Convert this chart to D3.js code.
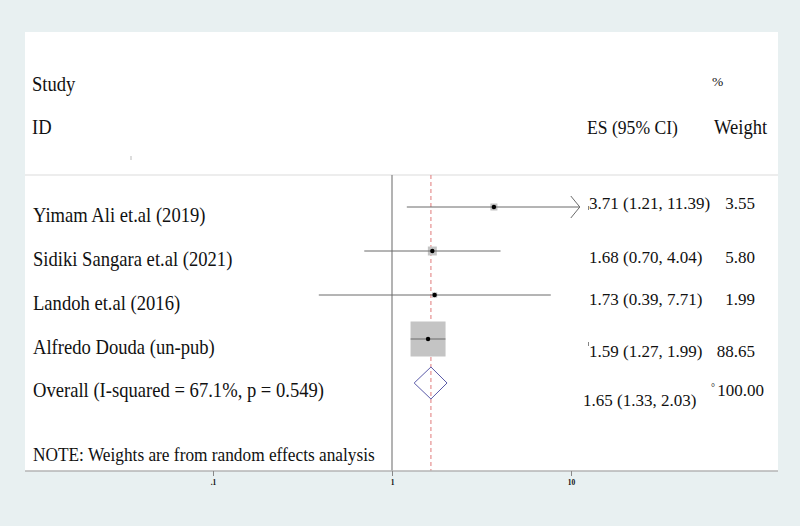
<!DOCTYPE html>
<html>
<head>
<meta charset="utf-8">
<script src="https://cdn.jsdelivr.net/npm/d3@7"></script>
<style>
  html, body { margin: 0; padding: 0; background: #e8f0f1; }
  svg { display: block; }
  text { font-family: "Liberation Serif", "Times New Roman", serif; fill: #111; }
</style>
</head>
<body>
<script>
// ---- data ----
const studies = ["Yimam Ali et.al (2019)", "Sidiki Sangara et.al (2021)", "Landoh et.al (2016)", "Alfredo Douda (un-pub)"];
const es      = [3.71, 1.68, 1.73, 1.59];
const lower   = [1.21, 0.70, 0.39, 1.27];
const upper   = [11.39, 4.04, 7.71, 1.99];
const weights = [3.55, 5.80, 1.99, 88.65];
const overallLabel = "Overall (I-squared = 67.1%, p = 0.549)";
const overall = {es: 1.65, lo: 1.33, hi: 2.03, w: 100.00};
const tickValues = [0.1, 1, 10];
const tickLabels = [".1", "1", "10"];
const clipUpper = 11.2; // CI arrows drawn for bounds beyond this

// ---- layout ----
const W = 800, H = 526;
const panel = {x0: 25, x1: 778, y0: 32, y1: 471};
const sepY = 175;
const SY = 1.1; // vertical stretch of serif text

const svg = d3.select("body").append("svg").attr("width", W).attr("height", H);
svg.append("rect").attr("width", W).attr("height", H).attr("fill", "#e8f0f1");
svg.append("rect").attr("x", panel.x0).attr("y", panel.y0)
  .attr("width", panel.x1 - panel.x0).attr("height", panel.y1 - panel.y0).attr("fill", "#ffffff");

const x = d3.scaleLog().domain([0.1, 10]).range([213, 571]);
const y = d3.scaleLinear().domain([0, 4]).range([207, 383]);

function txt(tx, ty, size, s, anchor, sy) {
  return svg.append("text")
    .attr("transform", `translate(${tx},${ty}) scale(1,${sy || 1})`)
    .attr("font-size", size).attr("text-anchor", anchor || "start").text(s);
}

// header separator
svg.append("line").attr("x1", panel.x0).attr("x2", panel.x1).attr("y1", sepY).attr("y2", sepY)
  .attr("stroke", "#dcdcdc").attr("stroke-width", 1.2);

// headers
txt(32, 91, 18.6, "Study", "start", SY);
txt(32, 134, 18.6, "ID", "start", SY);
txt(587, 134, 17.6, "ES (95% CI)", "start", SY);
txt(714, 134, 18.6, "Weight", "start", SY);
txt(712, 86, 13.5, "%", "start", 1);
svg.append("line").attr("x1", 131).attr("x2", 131).attr("y1", 156).attr("y2", 160)
  .attr("stroke", "#aaa").attr("stroke-width", 0.8);

// null line at 1
svg.append("line").attr("x1", x(1)).attr("x2", x(1)).attr("y1", sepY).attr("y2", panel.y1)
  .attr("stroke", "#8a8a8a").attr("stroke-width", 1.3);
// overall dashed line
svg.append("line").attr("x1", x(overall.es)).attr("x2", x(overall.es)).attr("y1", sepY).attr("y2", panel.y1)
  .attr("stroke", "#e07a7a").attr("stroke-width", 1).attr("stroke-dasharray", "4,3");

// weight squares
const maxW = d3.max(weights);
const side = d3.scaleSqrt().domain([0, maxW]).range([0, 35]);
const rows = studies.map((s, i) => ({s, es: es[i], lo: lower[i], hi: upper[i], w: weights[i], i}));

svg.selectAll("rect.box").data(rows).enter().append("rect").attr("class", "box")
  .attr("x", d => x(d.es) - side(d.w) / 2).attr("y", d => y(d.i) - side(d.w) / 2)
  .attr("width", d => side(d.w)).attr("height", d => side(d.w))
  .attr("fill", "#c4c4c4");

// CI lines
svg.selectAll("line.ci").data(rows).enter().append("line").attr("class", "ci")
  .attr("x1", d => x(d.lo)).attr("x2", d => x(Math.min(d.hi, clipUpper)))
  .attr("y1", d => y(d.i)).attr("y2", d => y(d.i))
  .attr("stroke", "#6a6a6a").attr("stroke-width", 1);
// arrows
svg.selectAll("path.arrow").data(rows.filter(d => d.hi > clipUpper)).enter().append("path").attr("class", "arrow")
  .attr("d", d => {
    const tx = x(clipUpper), ty = y(d.i);
    return `M${tx - 9},${ty - 11}L${tx},${ty}L${tx - 9},${ty + 11}`;
  })
  .attr("fill", "none").attr("stroke", "#6a6a6a").attr("stroke-width", 1);

// point estimates
svg.selectAll("circle.pt").data(rows).enter().append("circle").attr("class", "pt")
  .attr("cx", d => x(d.es)).attr("cy", d => y(d.i)).attr("r", 2.2).attr("fill", "#000");

// overall diamond
const oy = y(4);
svg.append("path")
  .attr("d", `M${x(overall.lo)},${oy}L${x(overall.es)},${oy - 16}L${x(overall.hi)},${oy}L${x(overall.es)},${oy + 16}Z`)
  .attr("fill", "none").attr("stroke", "#5a5aa8").attr("stroke-width", 1);

// labels
rows.forEach(d => txt(33, y(d.i) + 15, 18.6, d.s, "start", SY));
txt(33, oy + 14, 18.6, overallLabel, "start", SY);

const f2 = d3.format(".2f");
const esDy = [2, 12, 10, 18, 23];   // baseline offsets of the estimate column
rows.forEach(d => {
  txt(589, y(d.i) + esDy[d.i], 17, `${f2(d.es)} (${f2(d.lo)}, ${f2(d.hi)})`);
  txt(755, y(d.i) + esDy[d.i], 17, f2(d.w), "end");
});
txt(583, oy + esDy[4], 17, `${f2(overall.es)} (${f2(overall.lo)}, ${f2(overall.hi)})`);
txt(764, oy + 13, 17, f2(overall.w), "end");
txt(711, oy + 8, 10, "°");
svg.append("line").attr("x1", 588.5).attr("x2", 588.5).attr("y1", y(0) - 1).attr("y2", y(0) + 3)
  .attr("stroke", "#666").attr("stroke-width", 0.8);
svg.append("line").attr("x1", 588.5).attr("x2", 588.5).attr("y1", y(3) + 3).attr("y2", y(3) + 7)
  .attr("stroke", "#666").attr("stroke-width", 0.8);

// note
txt(33, 461, 17.3, "NOTE: Weights are from random effects analysis", "start", SY);

// x axis
svg.append("line").attr("x1", panel.x0).attr("x2", panel.x1).attr("y1", panel.y1).attr("y2", panel.y1)
  .attr("stroke", "#b4b4b4").attr("stroke-width", 1.5);
const axis = d3.axisBottom(x).tickValues(tickValues).tickSize(5)
  .tickFormat((d, i) => tickLabels[i]);
const ax = svg.append("g").attr("transform", `translate(0,${panel.y1})`).call(axis);
ax.select(".domain").remove();
ax.selectAll(".tick line").attr("stroke", "#888");
ax.selectAll(".tick text").attr("font-family", "DejaVu Sans, sans-serif").attr("font-size", 7.5)
  .attr("font-weight", "bold").attr("fill", "#222").attr("dy", "0.85em");
</script>
</body>
</html>
